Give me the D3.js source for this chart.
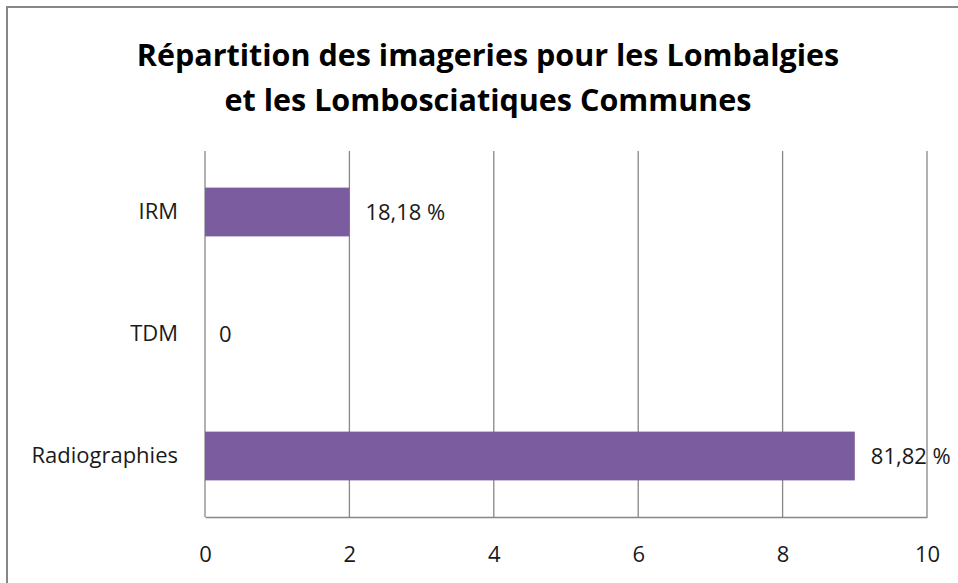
<!DOCTYPE html>
<html>
<head>
<meta charset="utf-8">
<script src="https://d3js.org/d3.v7.min.js"></script>
<style>
  body { margin: 0; background: #fff; }
  text { font-family: "Open Sans", sans-serif; }
</style>
</head>
<body>
<div id="chart"></div>
<script>
const categories = ["IRM", "TDM", "Radiographies"];
const values = [2, 0, 9];
const valueLabels = ["18,18 %", "0", "81,82 %"];
const xTicks = [0, 2, 4, 6, 8, 10];
const titleLines = ["Répartition des imageries pour les Lombalgies", "et les Lombosciatiques Communes"];

const W = 958, H = 583;
const margin = { top: 151, right: 31, bottom: 66, left: 205 };
const width = W - margin.left - margin.right;
const height = H - margin.top - margin.bottom;

const root = d3.select("#chart").append("svg")
    .attr("width", W)
    .attr("height", H);

// outer frame (right and bottom edges fall outside the picture)
root.append("rect")
    .attr("x", 7)
    .attr("y", 7)
    .attr("width", W + 20)
    .attr("height", H + 20)
    .attr("fill", "none")
    .attr("stroke", "#878787")
    .attr("stroke-width", 2);

// title
root.append("text")
    .attr("x", 488)
    .attr("y", 66)
    .attr("text-anchor", "middle")
    .style("font-size", "30.5px")
    .style("font-weight", "bold")
    .attr("fill", "#000")
    .selectAll("tspan")
    .data(titleLines)
    .enter()
    .append("tspan")
    .attr("x", 488)
    .attr("dy", (d, i) => i === 0 ? 0 : 45)
    .text(d => d);

const svg = root.append("g")
    .attr("transform", `translate(${margin.left},${margin.top})`);

const x = d3.scaleLinear()
    .domain([0, 10])
    .range([0, width]);

const y = d3.scaleBand()
    .domain(categories)
    .range([0, height])
    .paddingInner(0.6)
    .paddingOuter(0.3);

// vertical gridlines
svg.selectAll(".grid")
    .data(xTicks)
    .enter()
    .append("line")
    .attr("class", "grid")
    .attr("x1", d => x(d))
    .attr("x2", d => x(d))
    .attr("y1", 0)
    .attr("y2", height)
    .attr("stroke", "#878787")
    .attr("stroke-width", 1.3);

// x axis
const xAxis = svg.append("g")
    .attr("transform", `translate(0,${height})`)
    .call(d3.axisBottom(x).tickValues(xTicks).tickSize(0).tickPadding(29));
xAxis.select(".domain").attr("stroke", "#878787").attr("stroke-width", 1.3);
xAxis.selectAll("text")
    .style("font-size", "22px")
    .style("font-family", "'Open Sans', sans-serif")
    .attr("fill", "#1a1a1a");

// y axis labels
const yAxis = svg.append("g")
    .call(d3.axisLeft(y).tickSize(0).tickPadding(27));
yAxis.select(".domain").remove();
yAxis.selectAll("text")
    .style("font-size", "22px")
    .style("font-family", "'Open Sans', sans-serif")
    .attr("fill", "#1a1a1a");

// bars
svg.selectAll(".bar")
    .data(categories)
    .enter()
    .append("rect")
    .attr("class", "bar")
    .attr("x", x(0))
    .attr("y", d => y(d))
    .attr("width", (d, i) => x(values[i]) - x(0))
    .attr("height", y.bandwidth())
    .attr("fill", "#7B5C9E");

// value labels
svg.selectAll(".val")
    .data(categories)
    .enter()
    .append("text")
    .attr("class", "val")
    .attr("x", (d, i) => x(values[i]) + (values[i] === 0 ? 14 : 16))
    .attr("y", d => y(d) + y.bandwidth() / 2)
    .attr("dy", "0.35em")
    .style("font-size", "22px")
    .attr("fill", "#1a1a1a")
    .text((d, i) => valueLabels[i]);
</script>
</body>
</html>
